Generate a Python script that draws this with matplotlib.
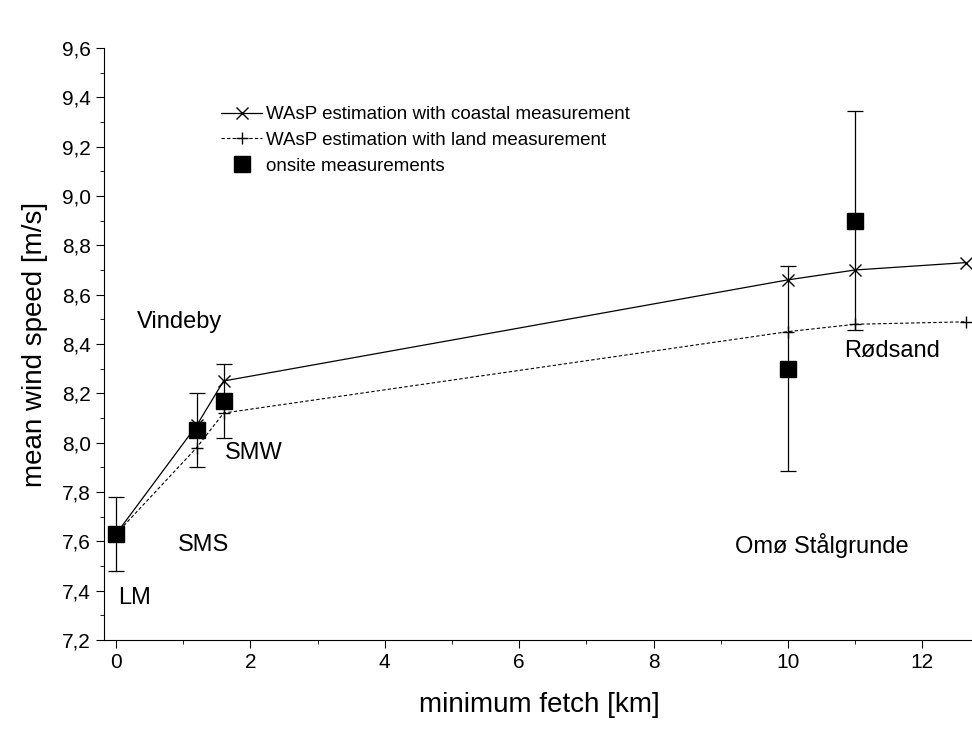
import matplotlib
matplotlib.use('Agg')
import matplotlib.pyplot as plt
from matplotlib.ticker import MultipleLocator, FuncFormatter

fetch = [0, 1.2, 1.6, 10, 11, 12.65]
coastal = [7.63, 8.07, 8.25, 8.66, 8.70, 8.73]
land = [7.63, 7.98, 8.12, 8.45, 8.48, 8.49]
on_x = [0, 1.2, 1.6, 10, 11]
on_y = [7.63, 8.05, 8.17, 8.30, 8.90]
on_err = [0.15, 0.15, 0.15, 0.415, 0.445]
labels = [("Vindeby", 0.95, 8.49), ("LM", 0.28, 7.37), ("SMS", 1.3, 7.585),
          ("SMW", 2.05, 7.96), ("Rødsand", 11.55, 8.37), ("Omø Stålgrunde", 10.5, 7.585)]

plt.rcParams['font.family'] = ['Liberation Sans', 'DejaVu Sans']
fig = plt.figure(figsize=(9.72, 7.36), dpi=100)
ax = fig.add_axes([104/972, 1-640/736, 1-104/972+0.002, (640-48)/736])
ax.plot(fetch, coastal, '-', color='black', lw=0.9, marker='x', ms=9, mew=1,
        label='WAsP estimation with coastal measurement')
ax.plot(fetch, land, '--', color='black', lw=0.8, dashes=(3, 2), marker='+', ms=9, mew=1,
        label='WAsP estimation with land measurement')
ax.errorbar(on_x, on_y, yerr=on_err, fmt='none', ecolor='black', elinewidth=0.9, capsize=6, capthick=0.9)
ax.plot(on_x, on_y, 's', color='black', ms=11, ls='none', label='onsite measurements')
for t, x, y in labels:
    ax.text(x, y, t, fontsize=17, ha='center', va='center')
ax.set_xlim(-0.18, 12.77)
ax.set_ylim(7.2, 9.6)
ax.xaxis.set_major_locator(MultipleLocator(2))
ax.xaxis.set_minor_locator(MultipleLocator(1))
ax.yaxis.set_major_locator(MultipleLocator(0.2))
ax.yaxis.set_minor_locator(MultipleLocator(0.1))
ax.yaxis.set_major_formatter(FuncFormatter(lambda v, p: f"{v:.1f}".replace('.', ',')))
ax.tick_params(which='both', direction='out', labelsize=15)
ax.tick_params(which='major', length=6)
ax.tick_params(which='minor', length=3)
ax.spines['right'].set_visible(False)
ax.spines['top'].set_visible(False)
ax.set_xlabel('minimum fetch [km]', fontsize=20, labelpad=14)
ax.set_ylabel('mean wind speed [m/s]', fontsize=20, labelpad=10)
ax.legend(loc='upper left', bbox_to_anchor=(0.115, 0.93), frameon=False, fontsize=13.5,
          handlelength=2.2, labelspacing=0.45, handletextpad=0.2)
fig.savefig('out.png', dpi=100)
